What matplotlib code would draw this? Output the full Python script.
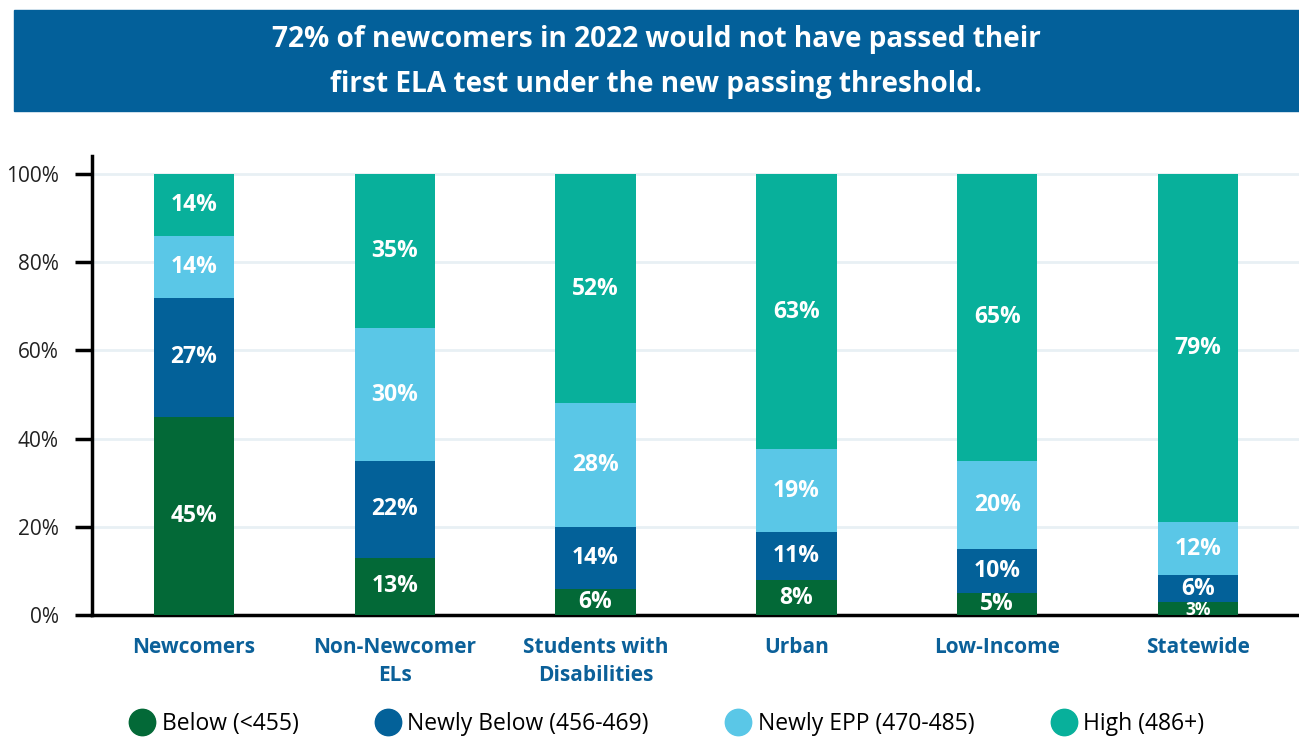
import matplotlib
matplotlib.use("Agg")
import matplotlib.pyplot as plt
from matplotlib.lines import Line2D
from matplotlib.patches import Rectangle
import numpy as np

plt.rcParams['font.family'] = ['Open Sans', 'DejaVu Sans']

categories = ["Newcomers", "Non-Newcomer\nELs", "Students with\nDisabilities", "Urban", "Low-Income", "Statewide"]
series_names = ["Below (<455)", "Newly Below (456-469)", "Newly EPP (470-485)", "High (486+)"]
below = [45, 13, 6, 8, 5, 3]
newly_below = [27, 22, 14, 11, 10, 6]
newly_epp = [14, 30, 28, 19, 20, 12]
high = [14, 35, 52, 63, 65, 79]
colors = ["#036937", "#036199", "#5AC7E7", "#08B09B"]
title = "72% of newcomers in 2022 would not have passed their\nfirst ELA test under the new passing threshold."

series = [below, newly_below, newly_epp, high]
data = np.array(series, dtype=float)
totals = data.sum(axis=0)
shares = data / totals * 100

fig = plt.figure(figsize=(12.99, 7.41), dpi=100)
W, H = 1299, 741

# title banner
fig.patches.append(Rectangle((14 / W, 1 - 111 / H), 1 - 14 / W, 101 / H,
                             transform=fig.transFigure, color="#03609A", zorder=0))
fig.text(656 / W, 1 - 62 / H, title, ha="center", va="center", color="white",
         fontsize=20.2, fontweight="bold", linespacing=1.72)

ax = fig.add_axes([92 / W, 1 - 615 / H, 1 - 92 / W, (615 - 156) / H])
x = np.arange(len(categories))
bottom = np.zeros(len(categories))
for vals, sh, c in zip(series, shares, colors):
    ax.bar(x, sh, 0.4, bottom=bottom, color=c, zorder=3)
    for xi, b, s, v in zip(x, bottom, sh, vals):
        small = s < 4
        ax.text(xi, b + s / 2 - (0.3 if small else 0), f"{v}%", ha="center", va="center",
                color="white", fontsize=12.5 if small else 16.5, fontweight="bold", zorder=4)
    bottom += sh

ax.set_xlim(-0.508, 5.503)
ax.set_ylim(0, 104.1)
ax.set_yticks([0, 20, 40, 60, 80, 100])
ax.set_yticklabels([f"{v}%" for v in [0, 20, 40, 60, 80, 100]], fontsize=15, color="#222222")
ax.set_xticks(x)
ax.set_xticklabels(categories, fontsize=15, fontweight="bold", color="#0B6099", linespacing=1.45)
ax.tick_params(axis="x", length=0, pad=16)
ax.tick_params(axis="y", length=12, width=2.5, color="black", pad=12)
ax.grid(axis="y", color="#E8F0F4", linewidth=2, zorder=0)
ax.set_axisbelow(True)
for s in ["top", "right"]:
    ax.spines[s].set_visible(False)
ax.spines["left"].set_linewidth(2.5)
ax.spines["bottom"].set_linewidth(2.5)

handles = [Line2D([], [], marker="o", linestyle="", markersize=19, color=c) for c in colors]
fig.legend(handles, series_names, loc="center", bbox_to_anchor=(0.513, 1 - 724 / H), ncol=4,
           frameon=False, fontsize=16.5, handletextpad=0.25, columnspacing=3.3, handlelength=1.2)

fig.savefig("out.png", dpi=100)
